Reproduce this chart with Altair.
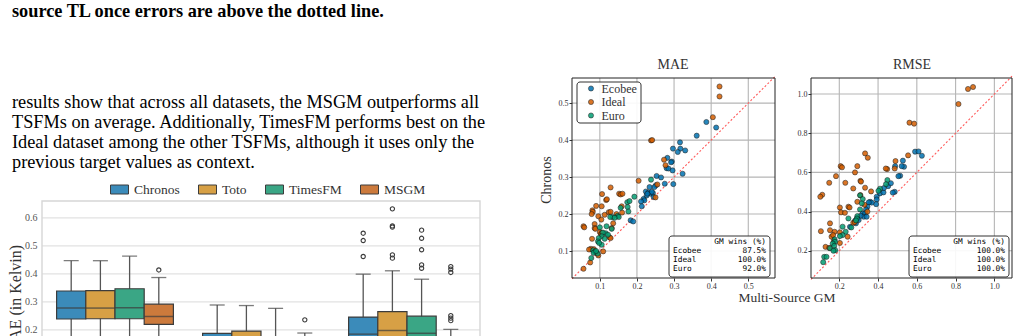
import altair as alt
import pandas as pd

W, H = 1019, 336
SERIF = "Liberation Serif"
MONO = "DejaVu Sans Mono"

# ---------------- page text ----------------
caption_line = "source TL once errors are above the dotted line."
paragraph_lines = [
    "results show that across all datasets, the MSGM outperforms all",
    "TSFMs on average. Additionally, TimesFM performs best on the",
    "Ideal dataset among the other TSFMs, although it uses only the",
    "previous target values as context.",
]

# ---------------- boxplot (summary statistics) ----------------
box_groups = ["Ecobee", "Ideal", "Euro"]
box_models = ["Chronos", "Toto", "TimesFM", "MSGM"]
box_colors = ["#3b8bba", "#d7a045", "#3aa685", "#cc7a3c"]
box_lo = [0.10, 0.10, 0.10, 0.09, 0.05, 0.05, 0.05, 0.04, 0.06, 0.06, 0.06, 0.05]
box_q1 = [0.239, 0.240, 0.240, 0.220, 0.09, 0.09, 0.08, 0.08, 0.12, 0.13, 0.12, 0.10]
box_med = [0.278, 0.278, 0.279, 0.248, 0.13, 0.13, 0.12, 0.11, 0.185, 0.198, 0.188, 0.14]
box_q3 = [0.339, 0.340, 0.347, 0.292, 0.188, 0.196, 0.17, 0.15, 0.246, 0.265, 0.249, 0.175]
box_hi = [0.447, 0.447, 0.463, 0.387, 0.289, 0.287, 0.277, 0.189, 0.399, 0.411, 0.381, 0.202]
out_group = ["Ecobee", "Ideal"] + ["Euro"] * 19
out_model = (["MSGM", "MSGM"] + ["Chronos"] * 3 + ["Toto"] * 5 + ["TimesFM"] * 5 + ["MSGM"] * 6)
out_value = [0.414, 0.236, 0.545, 0.519, 0.462, 0.632, 0.571, 0.567, 0.468, 0.456,
             0.556, 0.527, 0.486, 0.432, 0.420, 0.426, 0.417, 0.405, 0.251, 0.242, 0.233]
box_ticks = [0.1, 0.2, 0.3, 0.4, 0.5, 0.6]

# ---------------- scatter data ----------------
datasets = ["Ecobee", "Ideal", "Euro"]
ds_colors = ["#0173b2", "#d55e00", "#029e73"]

mae_ecobee_x = [0.4135, 0.387, 0.361, 0.316, 0.317, 0.330, 0.310, 0.297, 0.282, 0.294, 0.292, 0.280, 0.285, 0.296, 0.323, 0.253, 0.265, 0.298, 0.275, 0.251, 0.247, 0.234, 0.224, 0.231, 0.237, 0.243, 0.245, 0.226, 0.218, 0.220, 0.211, 0.213, 0.183, 0.190, 0.240, 0.228]
mae_ecobee_y = [0.434, 0.449, 0.412, 0.394, 0.377, 0.372, 0.368, 0.377, 0.352, 0.342, 0.340, 0.324, 0.323, 0.318, 0.309, 0.303, 0.299, 0.281, 0.282, 0.278, 0.273, 0.273, 0.261, 0.258, 0.255, 0.257, 0.246, 0.250, 0.241, 0.237, 0.234, 0.221, 0.183, 0.180, 0.260, 0.255]
mae_ideal_x = [0.4225, 0.4225, 0.4045, 0.238, 0.241, 0.273, 0.277, 0.2045, 0.129, 0.056, 0.058, 0.106, 0.152, 0.156, 0.161, 0.117, 0.119, 0.090, 0.105, 0.080, 0.081, 0.078, 0.096, 0.124, 0.129, 0.113, 0.145, 0.159, 0.104, 0.136, 0.086, 0.086, 0.088, 0.100, 0.103, 0.106, 0.132, 0.126, 0.129, 0.079, 0.076, 0.071, 0.084, 0.091, 0.096, 0.074, 0.056, 0.109, 0.160, 0.250, 0.255]
mae_ideal_y = [0.545, 0.518, 0.462, 0.399, 0.400, 0.347, 0.332, 0.290, 0.272, 0.167, 0.164, 0.254, 0.255, 0.253, 0.255, 0.238, 0.240, 0.222, 0.221, 0.210, 0.206, 0.200, 0.194, 0.205, 0.206, 0.198, 0.200, 0.221, 0.185, 0.175, 0.173, 0.162, 0.160, 0.151, 0.146, 0.149, 0.162, 0.137, 0.135, 0.133, 0.106, 0.104, 0.105, 0.095, 0.088, 0.069, 0.052, 0.099, 0.204, 0.245, 0.280]
mae_euro_x = [0.238, 0.193, 0.174, 0.180, 0.156, 0.175, 0.177, 0.148, 0.151, 0.134, 0.118, 0.132, 0.100, 0.116, 0.122, 0.108, 0.105, 0.097, 0.095, 0.113, 0.105, 0.098, 0.082, 0.087, 0.083, 0.094, 0.077, 0.090, 0.128, 0.140]
mae_euro_y = [0.293, 0.247, 0.232, 0.235, 0.217, 0.219, 0.207, 0.195, 0.192, 0.192, 0.167, 0.160, 0.164, 0.148, 0.144, 0.150, 0.140, 0.135, 0.126, 0.133, 0.117, 0.122, 0.102, 0.098, 0.095, 0.093, 0.081, 0.100, 0.192, 0.190]

rmse_ecobee_x = [0.591, 0.609, 0.626, 0.528, 0.534, 0.522, 0.488, 0.514, 0.505, 0.486, 0.476, 0.410, 0.428, 0.393, 0.393, 0.390, 0.359, 0.367, 0.352, 0.345, 0.338, 0.321, 0.333, 0.326, 0.310, 0.293, 0.281, 0.341, 0.300, 0.255, 0.286, 0.452, 0.430, 0.466]
rmse_ecobee_y = [0.706, 0.707, 0.685, 0.660, 0.629, 0.632, 0.632, 0.583, 0.581, 0.501, 0.497, 0.493, 0.498, 0.476, 0.462, 0.438, 0.450, 0.446, 0.447, 0.425, 0.411, 0.391, 0.391, 0.374, 0.379, 0.365, 0.353, 0.374, 0.357, 0.322, 0.340, 0.530, 0.520, 0.545]
rmse_ideal_x = [0.864, 0.890, 0.815, 0.562, 0.586, 0.555, 0.486, 0.447, 0.440, 0.490, 0.333, 0.347, 0.207, 0.214, 0.293, 0.281, 0.183, 0.231, 0.148, 0.309, 0.312, 0.333, 0.272, 0.112, 0.102, 0.364, 0.309, 0.293, 0.203, 0.247, 0.253, 0.209, 0.229, 0.152, 0.105, 0.152, 0.176, 0.203, 0.160, 0.168, 0.172, 0.129, 0.148, 0.203, 0.243, 0.272, 0.280, 0.345, 0.330]
rmse_ideal_y = [1.026, 1.036, 0.949, 0.854, 0.849, 0.687, 0.620, 0.617, 0.620, 0.658, 0.697, 0.675, 0.632, 0.626, 0.632, 0.600, 0.581, 0.547, 0.547, 0.557, 0.553, 0.522, 0.518, 0.486, 0.476, 0.503, 0.484, 0.450, 0.421, 0.425, 0.421, 0.396, 0.394, 0.340, 0.300, 0.305, 0.297, 0.294, 0.272, 0.280, 0.250, 0.220, 0.215, 0.240, 0.272, 0.343, 0.346, 0.400, 0.435]
rmse_euro_x = [0.448, 0.441, 0.410, 0.402, 0.307, 0.321, 0.316, 0.307, 0.293, 0.290, 0.286, 0.247, 0.217, 0.262, 0.233, 0.217, 0.203, 0.176, 0.178, 0.166, 0.152, 0.174, 0.179, 0.122, 0.134, 0.117, 0.170]
rmse_euro_y = [0.561, 0.540, 0.517, 0.506, 0.483, 0.464, 0.442, 0.411, 0.377, 0.365, 0.355, 0.365, 0.323, 0.319, 0.297, 0.280, 0.275, 0.258, 0.246, 0.237, 0.213, 0.225, 0.203, 0.169, 0.169, 0.142, 0.200]

mae_ticks = [0.1, 0.2, 0.3, 0.4, 0.5]
rmse_ticks = [0.2, 0.4, 0.6, 0.8, 1.0]
mae_wins = ["87.5%", "100.0%", "92.0%"]
rmse_wins = ["100.0%", "100.0%", "100.0%"]


def one_row():
    return pd.DataFrame({"k": [0]})


def text_layer(s, x, y, size, weight="normal", align="left", angle=0, color="#000000", font=SERIF):
    return alt.Chart(pd.DataFrame({"t": [s]})).mark_text(
        align=align, baseline="middle", fontSize=size, fontWeight=weight,
        font=font, color=color, angle=angle,
    ).encode(text="t:N", x=alt.value(x), y=alt.value(y))


def box_rect(x0, x1, y0, y1):
    return alt.Chart(one_row()).mark_rect(fill="white", fillOpacity=0.9, stroke="#333333",
                                          strokeWidth=1, cornerRadius=3).encode(
        x=alt.value(x0), x2=alt.value(x1), y=alt.value(y0), y2=alt.value(y1))


# ---------------- left column text ----------------
layers = [text_layer(caption_line, 12, 12, 18.3, weight="bold")]
for i, line in enumerate(paragraph_lines):
    layers.append(text_layer(line, 12, 103 + 20 * i, 18.3))
layers.append(text_layer("MAE (in Kelvin)", 16, 300, 16, align="center", angle=270, color="#333333"))

# ---------------- boxplot layer ----------------
box_df = pd.DataFrame({
    "group": [g for g in box_groups for m in box_models],
    "model": [m for g in box_groups for m in box_models],
    "lo": box_lo, "q1": box_q1, "med": box_med, "q3": box_q3, "hi": box_hi,
})
out_df = pd.DataFrame({"group": out_group, "model": out_model, "v": out_value})
tick_df = pd.DataFrame({"v": box_ticks})

xb = alt.X("group:N", scale=alt.Scale(domain=box_groups, range=[42, 480], paddingInner=0, paddingOuter=0), axis=None)
xo = alt.XOffset("model:N", scale=alt.Scale(domain=box_models, paddingInner=0, paddingOuter=0.5))
ys_box = alt.Scale(domain=[0, 0.66], range=[386, 201], zero=False, nice=False)
yax_box = alt.Axis(orient="left", offset=-42, values=box_ticks, format=".1f", labelFont=SERIF,
                   labelFontSize=10, labelColor="#555555", ticks=False, domain=False, grid=False,
                   labelPadding=5, title=None)


def YB(field=None, datum=None):
    if datum is not None:
        return alt.Y(datum=datum, type="quantitative", scale=ys_box, axis=yax_box)
    return alt.Y(field, type="quantitative", scale=ys_box, axis=yax_box)


box_grid = alt.Chart(tick_df).mark_rule(color="#e2e2e2", strokeWidth=1.2).encode(
    x=alt.value(42), x2=alt.value(480), y=YB("v"))
box_frame = alt.Chart(one_row()).mark_rect(fillOpacity=0, stroke="#d6d6d6", strokeWidth=1.4).encode(
    x=alt.value(42), x2=alt.value(480), y=YB(datum=0.66), y2=alt.Y2(datum=0.0))
whisk = alt.Chart(box_df).mark_rule(color="#555555", strokeWidth=1.3).encode(
    x=xb, xOffset=xo, y=YB("lo"), y2="hi:Q")
cap_hi = alt.Chart(box_df).mark_tick(size=15, thickness=1.3, color="#444444").encode(
    x=xb, xOffset=xo, y=YB("hi"))
cap_lo = alt.Chart(box_df).mark_tick(size=15, thickness=1.3, color="#444444").encode(
    x=xb, xOffset=xo, y=YB("lo"))
bars = alt.Chart(box_df).mark_bar(stroke="#3c3c3c", strokeWidth=1.2).encode(
    x=xb, xOffset=xo, y=YB("q1"), y2="q3:Q",
    color=alt.Color("model:N", scale=alt.Scale(domain=box_models, range=box_colors),
                    legend=alt.Legend(orient="none", legendX=110, legendY=180, direction="horizontal",
                                      title=None, symbolType="M-1,-0.5H1V0.5H-1Z", symbolSize=324,
                                      symbolStrokeColor="#3c3c3c", symbolStrokeWidth=1,
                                      symbolOpacity=1, labelFont=SERIF, labelFontSize=13.5,
                                      labelColor="#333333", columnPadding=16, labelOffset=5)))
meds = alt.Chart(box_df).mark_tick(size=29, thickness=1.5, color="#3c3c3c").encode(
    x=xb, xOffset=xo, y=YB("med"))
outs = alt.Chart(out_df).mark_point(shape="circle", filled=False, size=18, color="#3c3c3c",
                                    strokeWidth=1.1, opacity=1).encode(
    x=xb, xOffset=xo, y=YB("v"))
box_layer = alt.layer(box_grid, box_frame, whisk, cap_hi, cap_lo, bars, meds, outs)


# ---------------- scatter panels ----------------
def scatter_panel(xs, ys, ticks, xdom, ydom, xr, yr, wins, legend, box_x, legend_box):
    rows = []
    for name, xv, yv in zip(datasets, xs, ys):
        for a, b in zip(xv, yv):
            rows.append({"dataset": name, "gm": a, "chronos": b})
    df = pd.DataFrame(rows)
    sx = alt.Scale(domain=xdom, range=xr, zero=False, nice=False)
    sy = alt.Scale(domain=ydom, range=yr, zero=False, nice=False)
    ax = alt.Axis(orient="bottom", offset=yr[0] - H, values=ticks, format=".1f", labelFont=SERIF,
                  labelFontSize=8, labelColor="#333333", tickColor="#333333", tickSize=3,
                  labelPadding=1, domain=False, grid=False, title=None, labelFlush=False)
    ay = alt.Axis(orient="left", offset=-xr[0], values=ticks, format=".1f", labelFont=SERIF,
                  labelFontSize=8, labelColor="#333333", tickColor="#333333", tickSize=3,
                  labelPadding=1, domain=False, grid=False, title=None, labelFlush=False)

    def X(field=None, datum=None):
        if datum is not None:
            return alt.X(datum=datum, type="quantitative", scale=sx, axis=ax)
        return alt.X(field, type="quantitative", scale=sx, axis=ax)

    def Y(field=None, datum=None):
        if datum is not None:
            return alt.Y(datum=datum, type="quantitative", scale=sy, axis=ay)
        return alt.Y(field, type="quantitative", scale=sy, axis=ay)

    tdf = pd.DataFrame({"v": ticks})
    gv = alt.Chart(tdf).mark_rule(color="#b5b5b5", strokeWidth=1.1).encode(
        x=X("v"), y=Y(datum=ydom[0]), y2=alt.Y2(datum=ydom[1]))
    gh = alt.Chart(tdf).mark_rule(color="#b5b5b5", strokeWidth=1.1).encode(
        y=Y("v"), x=X(datum=xdom[0]), x2=alt.X2(datum=xdom[1]))
    lo = min(xdom[0], ydom[0])
    hi = max(xdom[1], ydom[1])
    diag = alt.Chart(one_row()).mark_rule(color="#ff5a5a", strokeDash=[2, 2], strokeWidth=1.1,
                                          clip=True).encode(
        x=X(datum=lo), y=Y(datum=lo), x2=alt.X2(datum=hi), y2=alt.Y2(datum=hi))
    pts = alt.Chart(df).mark_circle(size=26, opacity=0.85, stroke="#111111", strokeWidth=0.6).encode(
        x=X("gm"), y=Y("chronos"),
        color=alt.Color("dataset:N", scale=alt.Scale(domain=datasets, range=ds_colors), legend=legend))
    frame = alt.Chart(one_row()).mark_rect(fillOpacity=0, stroke="#222222", strokeWidth=1).encode(
        x=X(datum=xdom[0]), x2=alt.X2(datum=xdom[1]), y=Y(datum=ydom[0]), y2=alt.Y2(datum=ydom[1]))
    bx0, bx1 = box_x
    parts = [gv, gh, diag]
    if legend_box is not None:
        parts.append(box_rect(*legend_box))
    parts += [pts, frame, box_rect(bx0, bx1, 236, 277),
              text_layer("GM wins (%)", bx1 - 4, 242, 7.8, align="right", font=MONO)]
    for j, (name, w) in enumerate(zip(datasets, wins)):
        parts.append(text_layer(name, bx0 + 4, 251 + 9 * j, 7.8, font=MONO))
        parts.append(text_layer(w, bx1 - 4, 251 + 9 * j, 7.8, align="right", font=MONO))
    return alt.layer(*parts)


mae_legend = alt.Legend(orient="none", legendX=585, legendY=82.5, title=None, symbolType="circle",
                        symbolSize=26, symbolStrokeColor="#111111", symbolStrokeWidth=0.6,
                        symbolOpacity=0.85, labelFont=SERIF, labelFontSize=12, labelColor="#333333",
                        padding=0, rowPadding=1.5, labelOffset=4.5)

mae_layer = scatter_panel([mae_ecobee_x, mae_ideal_x, mae_euro_x], [mae_ecobee_y, mae_ideal_y, mae_euro_y],
                          mae_ticks, [0.025, 0.572], [0.027, 0.568], [572, 775], [278, 78],
                          mae_wins, mae_legend, (669, 770), (577, 641, 82, 123))
rmse_layer = scatter_panel([rmse_ecobee_x, rmse_ideal_x, rmse_euro_x], [rmse_ecobee_y, rmse_ideal_y, rmse_euro_y],
                           rmse_ticks, [0.054, 1.091], [0.061, 1.082], [811, 1012], [278, 78],
                           rmse_wins, None, (909, 1009), None)

layers += [
    text_layer("MAE", 673, 65, 14, align="center", color="#333333"),
    text_layer("RMSE", 912, 65, 14, align="center", color="#333333"),
    text_layer("Chronos", 547, 180, 14, align="center", angle=270, color="#333333"),
    text_layer("Multi-Source GM", 787, 298, 13.5, align="center", color="#333333"),
    box_layer, mae_layer, rmse_layer,
]

chart = alt.layer(*layers).resolve_scale(
    x="independent", y="independent", color="independent"
).properties(
    width=W, height=H, padding=0, autosize=alt.AutoSizeParams(type="none"), background="white"
).configure_view(strokeWidth=0)

chart.save("out.html", embed_options={"renderer": "svg", "actions": False})
